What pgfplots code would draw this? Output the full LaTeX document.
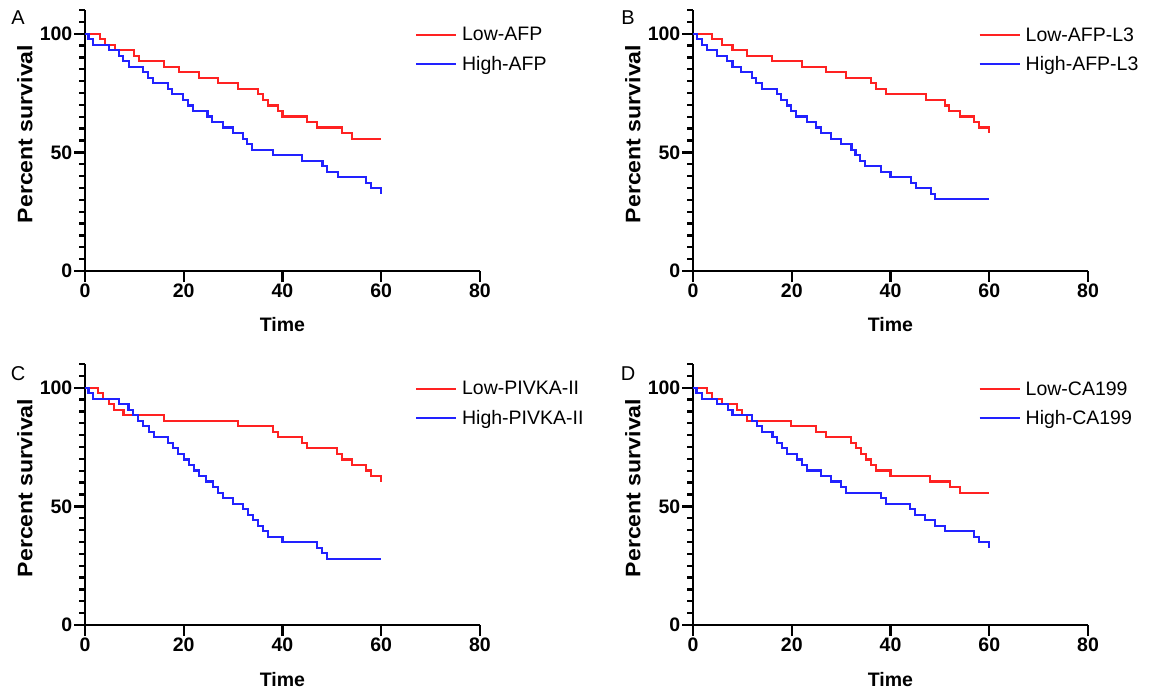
\documentclass[border=0pt]{standalone}
\usepackage{fontspec}
\setmainfont{Liberation Sans}
\newfontfamily\widefont[FakeStretch=1.1]{Liberation Sans}
\usepackage{pgfplots}
\pgfplotsset{compat=1.18}
\definecolor{kmred}{HTML}{FF2222}
\definecolor{kmblue}{HTML}{2222FF}
\newcommand{\tickfont}{\fontsize{19.5}{24}\selectfont\bfseries}
\newcommand{\ylabfont}{\widefont\fontsize{21}{24}\selectfont\bfseries}
\newcommand{\legfont}{\fontsize{19.5}{23}\selectfont}
\pgfplotsset{
  km/.style={scale only axis, width=395pt, height=261pt,
    xmin=0, xmax=80, ymin=0, ymax=110,
    axis x line*=bottom, axis y line*=left,
    axis line style={line width=2.6pt, -},
    xtick={0,20,...,80}, ytick={0,50,100}, minor ytick={5,10,...,110},
    tick align=outside, major tick length=11pt, minor tick length=6pt,
    every tick/.style={black, line width=2.3pt},
    tick label style={font=\tickfont},
    yticklabel style={inner sep=1.5pt},
    xticklabel style={inner sep=2pt},
    /pgf/number format/assume math mode=true,
    xlabel=Time, ylabel=Percent survival,
    xlabel style={font=\tickfont, at={(axis description cs:0.5,-0.207)}, anchor=center},
    ylabel style={font=\ylabfont, at={(axis description cs:-0.152,0.525)}, anchor=center},
    every axis plot/.append style={line width=2.1pt, const plot},
    legend cell align=left,
    legend style={draw=none, fill=none, font=\legfont, anchor=north west,
      inner sep=0pt, row sep=10pt, column sep=3pt, yshift=8.5pt},
    legend image code/.code={\draw[#1] (0pt,0pt) -- (40pt,0pt);},
  },
}
\begin{document}
\begin{tikzpicture}
\useasboundingbox (0,0) rectangle (1151pt,689pt);
% A
\begin{axis}[km, at={(85pt,418pt)}, anchor=south west,
  legend style={at={(axis cs:66.8,100)}}]
\addplot[kmred] coordinates {(0,100)(3,97.67)(4,95.35)(6,93.02)(10,90.70)(11,88.37)(16,86.05)(19,83.72)(23,81.40)(27,79.07)(31,76.74)(35,74.42)(36,72.09)(37,69.77)(39,67.44)(40,65.12)(45,62.79)(47,60.47)(52,58.14)(54,55.81)(60,55.81)};
\addlegendentry{Low-AFP}
\addplot[kmblue] coordinates {(0,100)(0.7,97.67)(1.7,95.35)(4.8,93.02)(6.8,90.70)(7.7,88.37)(8.9,86.05)(11.8,83.72)(12.8,81.40)(13.8,79.07)(16.9,76.74)(17.7,74.42)(19.8,72.09)(20.8,69.77)(21.8,67.44)(24.8,65.12)(25.8,62.79)(28,60.47)(30,58.14)(32,55.81)(32.9,53.49)(33.9,51.16)(38.1,48.84)(44,46.51)(48.1,44.19)(49.1,41.86)(51.2,39.53)(57,37.21)(58,34.88)(60,32.56)};
\addlegendentry{High-AFP}
\end{axis}
% B
\begin{axis}[km, at={(693pt,418pt)}, anchor=south west,
  legend style={at={(axis cs:57.8,100)}}]
\addplot[kmred] coordinates {(0,100)(3.9,97.67)(5.9,95.35)(8,93.02)(11,90.70)(16,88.37)(22,86.05)(27,83.72)(31,81.40)(36,79.07)(37,76.74)(39,74.42)(47.2,72.09)(51,69.77)(51.9,67.44)(54,65.12)(57,62.79)(58,60.47)(60,58.14)};
\addlegendentry{Low-AFP-L3}
\addplot[kmblue] coordinates {(0,100)(0.8,97.67)(1.8,95.35)(2.8,93.02)(4.9,90.70)(6.9,88.37)(8,86.05)(9.8,83.72)(12,81.40)(12.8,79.07)(13.9,76.74)(17,74.42)(17.9,72.09)(19.1,69.77)(19.9,67.44)(20.9,65.12)(23,62.79)(25,60.47)(26,58.14)(28,55.81)(30,53.49)(32.1,51.16)(32.9,48.84)(33.9,46.51)(34.9,44.19)(38,41.86)(40,39.53)(44.1,37.21)(45.1,34.88)(48.2,32.56)(49.1,30.23)(60,30.23)};
\addlegendentry{High-AFP-L3}
\end{axis}
% C
\begin{axis}[km, at={(85pt,64pt)}, anchor=south west,
  legend style={at={(axis cs:66.8,100)}}]
\addplot[kmred] coordinates {(0,100)(2.7,97.67)(3.7,95.35)(4.8,93.02)(5.8,90.70)(7.8,88.37)(16,86.05)(31,83.72)(38,81.40)(39,79.07)(44,76.74)(45,74.42)(51,72.09)(52,69.77)(54,67.44)(57,65.12)(58,62.79)(60,60.47)};
\addlegendentry{Low-PIVKA-II}
\addplot[kmblue] coordinates {(0,100)(0.7,97.67)(1.7,95.35)(6.8,93.02)(8.8,90.70)(9.8,88.37)(10.8,86.05)(11.8,83.72)(12.9,81.40)(13.9,79.07)(16.9,76.74)(17.9,74.42)(18.9,72.09)(20,69.77)(21,67.44)(22,65.12)(23,62.79)(24.5,60.47)(26,58.14)(27,55.81)(28,53.49)(30,51.16)(32,48.84)(33,46.51)(34,44.19)(35,41.86)(36,39.53)(37,37.21)(40,34.88)(47,32.56)(48,30.23)(49,27.91)(60,27.91)};
\addlegendentry{High-PIVKA-II}
\end{axis}
% D
\begin{axis}[km, at={(693pt,64pt)}, anchor=south west,
  legend style={at={(axis cs:57.8,100)}}]
\addplot[kmred] coordinates {(0,100)(2.8,97.67)(3.9,95.35)(5.9,93.02)(9,90.70)(10,88.37)(10.9,86.05)(19.9,83.72)(25,81.40)(27,79.07)(32,76.74)(33,74.42)(34,72.09)(35,69.77)(36,67.44)(37,65.12)(40,62.79)(48,60.47)(52,58.14)(54,55.81)(60,55.81)};
\addlegendentry{Low-CA199}
\addplot[kmblue] coordinates {(0,100)(0.7,97.67)(1.8,95.35)(4.9,93.02)(7,90.70)(8,88.37)(12,86.05)(13,83.72)(14,81.40)(16.1,79.07)(17,76.74)(18,74.42)(19,72.09)(21,69.77)(22,67.44)(23,65.12)(26,62.79)(28,60.47)(30,58.14)(31,55.81)(38,53.49)(39,51.16)(44,48.84)(45,46.51)(47,44.19)(49,41.86)(51,39.53)(57,37.21)(58,34.88)(60,32.56)};
\addlegendentry{High-CA199}
\end{axis}
\node[font=\fontsize{20}{24}\selectfont] at (18pt,671pt) {A};
\node[font=\fontsize{20}{24}\selectfont] at (628pt,671pt) {B};
\node[font=\fontsize{20}{24}\selectfont] at (18pt,315pt) {C};
\node[font=\fontsize{20}{24}\selectfont] at (628pt,315pt) {D};
\end{tikzpicture}
\end{document}
